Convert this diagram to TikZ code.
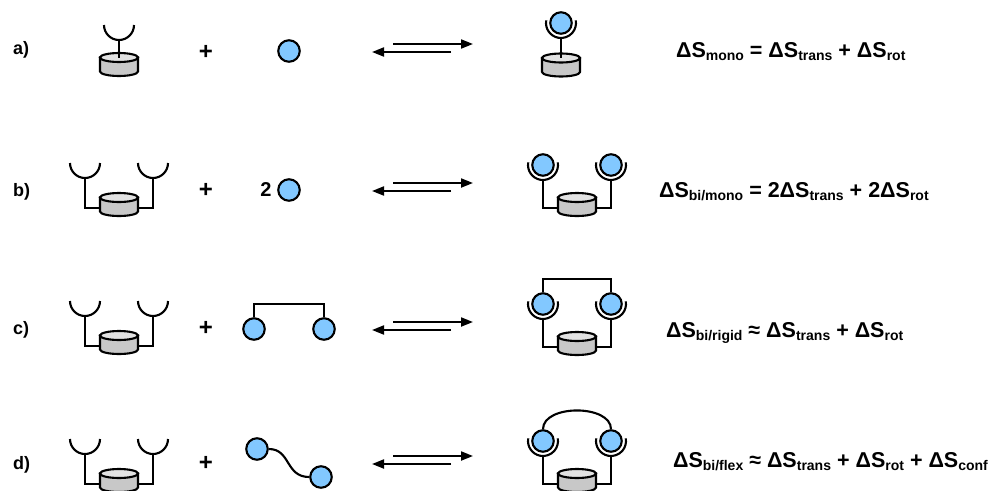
\documentclass[tikz,border=0pt]{standalone}
\usepackage{fontspec}
\setmainfont{Liberation Sans}
\usetikzlibrary{arrows.meta}
\definecolor{ligandblue}{RGB}{130,200,255}
\definecolor{cyltop}{RGB}{226,226,226}
\definecolor{cylside}{RGB}{200,200,200}
% lowered, smaller subscript used in the entropy terms
\newcommand\dsub[1]{\raisebox{-3.8pt}{\fontsize{14}{14}\selectfont #1}}

\begin{document}
\begin{tikzpicture}[x=1pt,y=-1pt,line width=2.1pt,
  ligand/.style={circle,draw,fill=ligandblue,minimum size=21.5pt,inner sep=0pt,line width=2.1pt},
  tag/.style={font=\fontsize{18}{18}\selectfont\bfseries,anchor=base west,inner sep=0pt},
  plus/.style={font=\fontsize{24}{24}\selectfont\bfseries,inner sep=0pt},
  eqn/.style={font=\fontsize{21.5}{21.5}\selectfont\bfseries,anchor=base west,inner sep=0pt},
  eqarrow/.style={line width=2pt,-{Triangle[length=12pt,width=9pt]}},
  % grey drum: origin is the centre of its top face
  drum/.pic={
    \path[draw,fill=cylside] (-19,0) -- (-19,14)
      arc[start angle=180,end angle=0,x radius=19,y radius=4.5] -- (19,0) -- cycle;
    \path[draw,fill=cyltop] (0,0) ellipse[x radius=19,y radius=4.5];
  },
  % open binding cup, origin at its centre
  cup/.pic={\draw (-15,0) arc[start angle=180,end angle=0,radius=15];},
  % cup wrapped round a bound ligand, origin at the ligand centre
  holder/.pic={\draw (190:15) arc[start angle=190,end angle=-10,radius=15];},
  % two-armed receptor, empty
  bireceptor/.pic={
    \draw (-34,-19.5) |- (34,10.5) -- (34,-19.5);
    \pic at (0,0) {drum};
    \pic at (-34,-34.5) {cup};
    \pic at (34,-34.5) {cup};
  },
  % two-armed receptor with both arms occupied
  bicomplex/.pic={
    \draw (-34,-17.5) |- (34,10.5) -- (34,-17.5);
    \pic at (0,0) {drum};
    \pic at (-34,-32.5) {holder};
    \pic at (34,-32.5) {holder};
  }
]
\useasboundingbox (0,0) rectangle (990,490);

% ---------- row a: monovalent ----------
\node[tag] (ta) at (12,54) {a)};
\pic at (119,57.5) {drum};
\draw (119,40) -- (119,57.5);
\pic at (119,25) {cup};
\node[plus] (pa) at (206,52) {+};
\node[ligand] (la) at (289,51) {};
\coordinate (a-r1) at (393,44); \coordinate (a-r2) at (473,44);
\coordinate (a-l1) at (451,52); \coordinate (a-l2) at (372,52);
\draw[eqarrow] (a-r1) -- (a-r2);
\draw[eqarrow] (a-l1) -- (a-l2);
\pic at (561,58) {drum};
\draw (561,38) -- (561,58);
\pic at (561,23) {holder};
\node[ligand] (ca) at (561,23) {};
\node[eqn] (ea) at (675,57) {ΔS\dsub{mono} = ΔS\dsub{trans} + ΔS\dsub{rot}};

% ---------- row b: two separate ligands ----------
\node[tag] (tb) at (12,196) {b)};
\pic at (119,197.5) {bireceptor};
\node[plus] (pb) at (206,190) {+};
\node[font=\fontsize{20}{20}\selectfont\bfseries,inner sep=0pt] (nb) at (266,190) {2};
\node[ligand] (lb) at (289,190) {};
\coordinate (b-r1) at (393,183); \coordinate (b-r2) at (473,183);
\coordinate (b-l1) at (451,191); \coordinate (b-l2) at (372,191);
\draw[eqarrow] (b-r1) -- (b-r2);
\draw[eqarrow] (b-l1) -- (b-l2);
\pic at (577,197.5) {bicomplex};
\node[ligand] (cb1) at (543,165) {};
\node[ligand] (cb2) at (611,165) {};
\node[eqn] (eb) at (658,197) {ΔS\dsub{bi/mono} = 2ΔS\dsub{trans} + 2ΔS\dsub{rot}};

% ---------- row c: rigid bivalent ligand ----------
\node[tag] (tc) at (12,334) {c)};
\pic at (119,335.5) {bireceptor};
\node[plus] (pc) at (206,328) {+};
\node[ligand] (lc1) at (254,329) {};
\node[ligand] (lc2) at (324,329) {};
\draw (lc1.north) -- (lc1.north |- 0,304) -| (lc2.north);
\coordinate (c-r1) at (393,322); \coordinate (c-r2) at (473,322);
\coordinate (c-l1) at (451,330); \coordinate (c-l2) at (372,330);
\draw[eqarrow] (c-r1) -- (c-r2);
\draw[eqarrow] (c-l1) -- (c-l2);
\pic at (577,336.5) {bicomplex};
\node[ligand] (cc1) at (543,304) {};
\node[ligand] (cc2) at (611,304) {};
\draw (cc1.north) -- (cc1.north |- 0,279) -| (cc2.north);
\node[eqn] (ec) at (665,337) {ΔS\dsub{bi/rigid} ≈ ΔS\dsub{trans} + ΔS\dsub{rot}};

% ---------- row d: flexible bivalent ligand ----------
\node[tag] (td) at (12,469) {d)};
\pic at (119,473.5) {bireceptor};
\node[plus] (pd) at (206,463) {+};
\node[ligand] (ld1) at (257,449) {};
\node[ligand] (ld2) at (321,477) {};
\draw (ld1.east) .. controls +(22,0) and +(-24,0) .. (ld2.west);
\coordinate (d-r1) at (393,456); \coordinate (d-r2) at (473,456);
\coordinate (d-l1) at (451,464); \coordinate (d-l2) at (372,464);
\draw[eqarrow] (d-r1) -- (d-r2);
\draw[eqarrow] (d-l1) -- (d-l2);
\pic at (577,473.5) {bicomplex};
\node[ligand] (cd1) at (543,441) {};
\node[ligand] (cd2) at (611,441) {};
\draw (cd1.north) .. controls +(0,-25) and +(0,-25) .. (cd2.north);
\node[eqn] (ed) at (672,467) {ΔS\dsub{bi/flex} ≈ ΔS\dsub{trans} + ΔS\dsub{rot} + ΔS\dsub{conf}};
\end{tikzpicture}
\end{document}
